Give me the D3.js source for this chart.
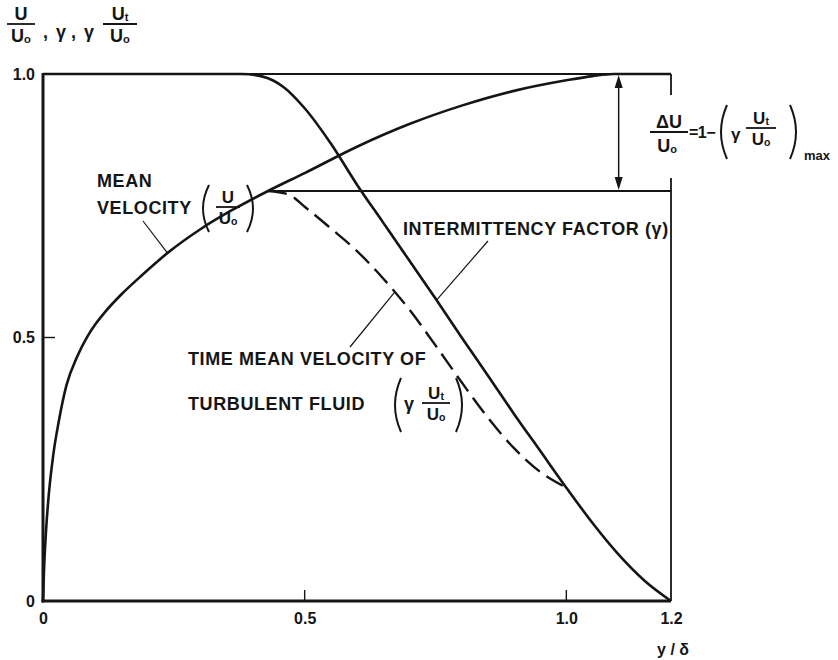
<!DOCTYPE html>
<html><head><meta charset="utf-8">
<script src="https://cdn.jsdelivr.net/npm/d3@7"></script>
<style>
body{margin:0;background:#fff}
svg text{font-family:"Liberation Sans",Arial,sans-serif;font-weight:bold;fill:#151515}
</style></head><body>
<svg id="chart" width="838" height="660"></svg>
<script>
// Tick values and their printed labels
const xTicks = [0, 0.5, 1.0, 1.2];
const xTickLabels = ["0", "0.5", "1.0", "1.2"];
const yTicks = [0, 0.5, 1.0];
const yTickLabels = ["0", "0.5", "1.0"];

// Mean velocity U/U0 across the boundary layer
const meanX = [0, 0.002, 0.005, 0.01, 0.02, 0.03, 0.045, 0.065, 0.085, 0.10, 0.12, 0.15, 0.19, 0.24, 0.30, 0.36, 0.43, 0.50, 0.60, 0.70, 0.80, 0.90, 1.00, 1.05, 1.09, 1.20];
const meanU = [0, 0.06, 0.12, 0.19, 0.28, 0.34, 0.41, 0.463, 0.502, 0.525, 0.550, 0.582, 0.619, 0.662, 0.705, 0.741, 0.778, 0.812, 0.862, 0.905, 0.94, 0.968, 0.988, 0.996, 1.0, 1.0];

// Intermittency factor gamma
const gammaX = [0, 0.38, 0.42, 0.46, 0.50, 0.55, 0.60, 0.65, 0.70, 0.75, 0.80, 0.85, 0.90, 0.95, 1.00, 1.05, 1.10, 1.15, 1.20];
const gammaV = [1, 1, 0.995, 0.975, 0.935, 0.868, 0.79, 0.718, 0.646, 0.574, 0.50, 0.428, 0.355, 0.285, 0.215, 0.148, 0.088, 0.038, 0];

// Time mean velocity of turbulent fluid, gamma * Ut/U0
const turbX = [0.43, 0.47, 0.50, 0.55, 0.60, 0.65, 0.70, 0.75, 0.80, 0.85, 0.90, 0.95, 1.00];
const turbV = [0.778, 0.771, 0.748, 0.707, 0.664, 0.612, 0.553, 0.485, 0.415, 0.348, 0.29, 0.245, 0.215];

const ink = "#151515";
const svg = d3.select("#chart");
const x = d3.scaleLinear().domain([0, 1.2]).range([43, 671]);
const y = d3.scaleLinear().domain([0, 1]).range([601, 74]);

// ---- frame ----
const frame = svg.append("g").attr("stroke", ink).attr("fill", "none");
frame.append("line").attr("x1", x(0)).attr("x2", x(0)).attr("y1", y(1) - 1).attr("y2", y(0) + 1.5).attr("stroke-width", 3);
frame.append("line").attr("x1", x(0) - 1.5).attr("x2", x(1.2)).attr("y1", y(0)).attr("y2", y(0)).attr("stroke-width", 3);
frame.append("line").attr("x1", x(0)).attr("x2", x(1.2)).attr("y1", y(1)).attr("y2", y(1)).attr("stroke-width", 2);
// right border, broken where the ΔU/U0 note sits
const noteTop = 95, noteBottom = 178;
frame.append("line").attr("x1", x(1.2)).attr("x2", x(1.2)).attr("y1", y(1)).attr("y2", noteTop).attr("stroke-width", 1.8);
frame.append("line").attr("x1", x(1.2)).attr("x2", x(1.2)).attr("y1", noteBottom).attr("y2", y(0)).attr("stroke-width", 1.8);

// inner ticks
frame.selectAll(".xt").data([0.5, 1.0]).join("line")
  .attr("x1", d => x(d)).attr("x2", d => x(d)).attr("y1", y(0)).attr("y2", y(0) - 11).attr("stroke-width", 1.4);
frame.selectAll(".yt").data([0.5]).join("line")
  .attr("x1", x(0)).attr("x2", x(0) + 12).attr("y1", d => y(d)).attr("y2", d => y(d)).attr("stroke-width", 1.4);

// ---- axes labels ----
const ax = svg.append("g").attr("transform", `translate(0,${y(0)})`)
  .call(d3.axisBottom(x).tickValues(xTicks).tickFormat((d, i) => xTickLabels[i]).tickSize(0).tickPadding(12));
ax.select(".domain").remove();
ax.selectAll("text").attr("font-size", 16);
const ay = svg.append("g").attr("transform", `translate(${x(0)},0)`)
  .call(d3.axisLeft(y).tickValues(yTicks).tickFormat((d, i) => yTickLabels[i]).tickSize(0).tickPadding(8));
ay.select(".domain").remove();
ay.selectAll("text").attr("font-size", 16);
svg.append("text").attr("x", x(1.2) + 2).attr("y", 655).attr("text-anchor", "middle").attr("font-size", 16).text("y / δ");

// ---- helpers ----
function fraction(g, cx, barY, halfW, fs, numSub) {
  const t = g.append("text").attr("x", cx).attr("y", barY - 4).attr("text-anchor", "middle").attr("font-size", fs);
  t.append("tspan").text("U");
  if (numSub) t.append("tspan").attr("font-size", fs * 0.62).attr("dy", 1).text(numSub);
  g.append("line").attr("x1", cx - halfW).attr("x2", cx + halfW).attr("y1", barY).attr("y2", barY)
    .attr("stroke", ink).attr("stroke-width", 1.8);
  const b = g.append("text").attr("x", cx).attr("y", barY + fs * 0.98).attr("text-anchor", "middle").attr("font-size", fs);
  b.append("tspan").text("U");
  b.append("tspan").attr("font-size", fs * 0.62).attr("dy", 1).text("o");
}
function paren(g, cx, y0, y1, dir) {
  const w = 5, m = (y0 + y1) / 2;
  g.append("path").attr("d", `M${cx + dir * w},${y0} Q${cx - dir * w * 1.4},${m} ${cx + dir * w},${y1}`)
    .attr("fill", "none").attr("stroke", ink).attr("stroke-width", 2);
}
function label(txt, lx, ly, fs) {
  return svg.append("text").attr("x", lx).attr("y", ly).attr("font-size", fs || 18).attr("letter-spacing", 0.6).text(txt);
}

// ---- y axis title ----
const yt = svg.append("g");
fraction(yt, 21, 24, 14, 18, null);
[[",", 43], ["γ", 56], [",", 71], ["γ", 84]].forEach(([s, px]) =>
  yt.append("text").attr("x", px).attr("y", 38).attr("font-size", 18).text(s));
fraction(yt, 120, 24, 17, 18, "t");

// ---- curves ----
const line = d3.line().x(d => x(d[0])).y(d => y(d[1])).curve(d3.curveMonotoneX);
const curves = svg.append("g").attr("fill", "none").attr("stroke", ink).attr("stroke-linejoin", "round");
curves.append("path").attr("d", line(d3.zip(meanX, meanU))).attr("stroke-width", 2.6);
curves.append("path").attr("d", line(d3.zip(gammaX, gammaV))).attr("stroke-width", 2.6);
curves.append("path").attr("d", line(d3.zip(turbX, turbV))).attr("stroke-width", 2.4).attr("stroke-dasharray", "19,8");

// level of the peak of gamma*Ut/U0, and the ΔU/U0 dimension arrow
const peak = d3.max(turbV);
const peakX = turbX[turbV.indexOf(peak)];
curves.append("line").attr("x1", x(peakX)).attr("x2", x(1.2)).attr("y1", y(peak)).attr("y2", y(peak)).attr("stroke-width", 2);
const arrowX = 1.10;
curves.append("line").attr("x1", x(arrowX)).attr("x2", x(arrowX)).attr("y1", y(1) + 10).attr("y2", y(peak) - 10).attr("stroke-width", 1.5);
const head = (tipY, dir) => `M${x(arrowX)},${tipY} L${x(arrowX) - 4},${tipY + dir * 13} L${x(arrowX) + 4},${tipY + dir * 13} Z`;
svg.append("path").attr("d", head(y(1) + 1, 1)).attr("fill", ink);
svg.append("path").attr("d", head(y(peak) - 1, -1)).attr("fill", ink);

// ---- annotations ----
const valAt = (xs, vs, q) => d3.scaleLinear().domain(xs).range(vs)(q);
const leaders = svg.append("g").attr("stroke", ink).attr("stroke-width", 1.2);

// mean velocity
label("MEAN", 97, 187);
label("VELOCITY", 97, 214);
const mv = svg.append("g");
paren(mv, 204, 185, 232, 1);
fraction(mv, 228, 207, 12, 17, null);
paren(mv, 252, 185, 232, -1);
leaders.append("line").attr("x1", 143).attr("y1", 221).attr("x2", x(0.238)).attr("y2", y(valAt(meanX, meanU, 0.238)));

// intermittency
label("INTERMITTENCY FACTOR (γ)", 403, 235);
leaders.append("line").attr("x1", 488).attr("y1", 241).attr("x2", x(0.752)).attr("y2", y(valAt(gammaX, gammaV, 0.752)));

// turbulent fluid
label("TIME MEAN VELOCITY OF", 188, 365);
label("TURBULENT FLUID", 188, 410);
const tf = svg.append("g");
paren(tf, 396, 378, 432, 1);
tf.append("text").attr("x", 404).attr("y", 410).attr("font-size", 18).text("γ");
fraction(tf, 436, 403, 14, 17, "t");
paren(tf, 461, 378, 432, -1);
leaders.append("line").attr("x1", 350).attr("y1", 347).attr("x2", x(0.672)).attr("y2", y(valAt(turbX, turbV, 0.672)));

// ΔU/U0 = 1 - (γ Ut/U0)max
const nt = svg.append("g");
nt.append("text").attr("x", 669).attr("y", 128).attr("text-anchor", "middle").attr("font-size", 18).text("ΔU");
nt.append("line").attr("x1", 650).attr("x2", 688).attr("y1", 132).attr("y2", 132).attr("stroke", ink).attr("stroke-width", 1.8);
const dd = nt.append("text").attr("x", 667).attr("y", 152).attr("text-anchor", "middle").attr("font-size", 18);
dd.append("tspan").text("U"); dd.append("tspan").attr("font-size", 11).attr("dy", 1).text("o");
nt.append("text").attr("x", 689).attr("y", 138).attr("font-size", 16).attr("letter-spacing", -0.5).text("=1−");
paren(nt, 722, 105, 159, 1);
nt.append("text").attr("x", 731).attr("y", 140).attr("font-size", 17).text("γ");
fraction(nt, 761, 128, 15, 17, "t");
paren(nt, 795, 105, 159, -1);
nt.append("text").attr("x", 804).attr("y", 160).attr("font-size", 13).text("max");
</script>
</body></html>
